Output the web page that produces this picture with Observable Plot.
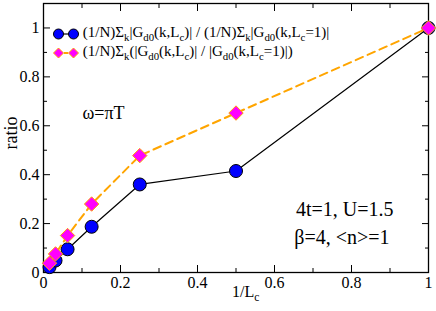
<!DOCTYPE html>
<html><head><meta charset="utf-8">
<script src="https://cdn.jsdelivr.net/npm/d3@7"></script>
<script src="https://cdn.jsdelivr.net/npm/@observablehq/plot@0.6"></script>
<style>
body{margin:0;background:#fff;}
#wrap{position:relative;width:436px;height:311px;font-family:"Liberation Serif",serif;}
#wrap svg, #wrap svg text{font-family:"Liberation Serif",serif !important;}
.ov{position:absolute;white-space:nowrap;color:#000;font-family:"Liberation Serif",serif;}
sub{font-size:72%;vertical-align:-0.35em;line-height:0;}
</style></head><body>
<div id="wrap"></div>
<script>
const invLc = [0.015625, 0.03125, 0.0625, 0.125, 0.25, 0.5, 1];
const ratioSumOverSum = [0.022, 0.049, 0.095, 0.187, 0.36, 0.415, 1];
const ratioMeanOfRatio = [0.038, 0.076, 0.151, 0.28, 0.478, 0.652, 1];
const xMajor = [0, 0.2, 0.4, 0.6, 0.8, 1];
const xMinor = [0.1, 0.3, 0.5, 0.7, 0.9];
const yMajor = [0, 0.2, 0.4, 0.6, 0.8, 1];
const yMinor = [0.1, 0.3, 0.5, 0.7, 0.9];
const annotations = ["ω=πT", "4t=1, U=1.5", "β=4, <n>=1"];

const blue = invLc.map((x, i) => ({x, y: ratioSumOverSum[i]}));
const pink = invLc.map((x, i) => ({x, y: ratioMeanOfRatio[i]}));
const fmt = d => String(d);
const none = () => "";
const ff = "Liberation Serif";

const chart = Plot.plot({
  width: 436, height: 311,
  marginLeft: 43, marginRight: 8, marginTop: 3, marginBottom: 39,
  style: {fontFamily: "'Liberation Serif', serif", fontSize: "16px", color: "black", background: "white"},
  x: {domain: [0, 1]},
  y: {domain: [0, 1.1]},
  marks: [
    Plot.axisX(xMajor, {anchor: "bottom", tickSize: -7, tickPadding: 11, tickFormat: fmt, label: null, fontSize: 16, fontFamily: ff}),
    Plot.axisX(xMinor, {anchor: "bottom", tickSize: -4, tickFormat: none, label: null}),
    Plot.axisX(xMajor, {anchor: "top", tickSize: -7, tickFormat: none, label: null}),
    Plot.axisX(xMinor, {anchor: "top", tickSize: -4, tickFormat: none, label: null}),
    Plot.axisY(yMajor, {anchor: "left", tickSize: -7, tickPadding: 11, tickFormat: fmt, label: null, fontSize: 16, fontFamily: ff}),
    Plot.axisY(yMinor, {anchor: "left", tickSize: -4, tickFormat: none, label: null}),
    Plot.axisY(yMajor, {anchor: "right", tickSize: -7, tickFormat: none, label: null}),
    Plot.axisY(yMinor, {anchor: "right", tickSize: -4, tickFormat: none, label: null}),
    Plot.frame({stroke: "black", strokeWidth: 1.3}),
    Plot.line(blue, {x: "x", y: "y", stroke: "black", strokeWidth: 1.2}),
    Plot.dot(blue, {x: "x", y: "y", r: 6.5, fill: "blue", stroke: "black", strokeWidth: 1}),
    Plot.line(pink, {x: "x", y: "y", stroke: "orange", strokeWidth: 2, strokeDasharray: "8,5"}),
    Plot.dot(pink, {x: "x", y: "y", symbol: "diamond2", r: 6.5, fill: "magenta", stroke: "orange", strokeWidth: 1}),
    Plot.text([annotations[0]], {text: d => d, frameAnchor: "top-left", dx: 39, dy: 103, textAnchor: "start", fontSize: 18, fontFamily: ff}),
    Plot.text([annotations[1]], {text: d => d, frameAnchor: "bottom-right", dx: -35, dy: -57, textAnchor: "end", fontSize: 20, fontFamily: ff}),
    Plot.text([annotations[2]], {text: d => d, frameAnchor: "bottom-right", dx: -39, dy: -29, textAnchor: "end", fontSize: 20, fontFamily: ff})
  ]
});
const wrap = document.getElementById("wrap");
wrap.appendChild(chart);

function addDiv(html, style) {
  const d = document.createElement("div");
  d.className = "ov"; d.innerHTML = html; Object.assign(d.style, style); wrap.appendChild(d);
}
addDiv("ratio", {left: "11px", top: "133px", fontSize: "18px", lineHeight: "1", transform: "translate(-50%,-50%) rotate(-90deg)"});
addDiv("1/L<sub>c</sub>", {left: "232px", top: "283px", fontSize: "16px"});
const sym1 = '<svg width="26" height="12" style="vertical-align:middle"><line x1="5" y1="6" x2="21" y2="6" stroke="black" stroke-width="1.2"/><circle cx="5.5" cy="6" r="5" fill="blue" stroke="black"/><circle cx="20.5" cy="6" r="5" fill="blue" stroke="black"/></svg>';
const sym2 = '<svg width="26" height="12" style="vertical-align:middle"><line x1="5" y1="6" x2="21" y2="6" stroke="orange" stroke-width="2" stroke-dasharray="4,2"/><path d="M5.5,1L10.5,6L5.5,11L0.5,6Z" fill="magenta" stroke="orange"/><path d="M20.5,1L25.5,6L20.5,11L15.5,6Z" fill="magenta" stroke="orange"/></svg>';
addDiv(sym1 + " (1/N)Σ<sub>k</sub>|G<sub>d0</sub>(k,L<sub>c</sub>)| / (1/N)Σ<sub>k</sub>|G<sub>d0</sub>(k,L<sub>c</sub>=1)|", {left: "53px", top: "24px", fontSize: "15px"});
addDiv(sym2 + " (1/N)Σ<sub>k</sub>(|G<sub>d0</sub>(k,L<sub>c</sub>)| / |G<sub>d0</sub>(k,L<sub>c</sub>=1)|)", {left: "53px", top: "43px", fontSize: "15px"});
</script>
</body></html>
